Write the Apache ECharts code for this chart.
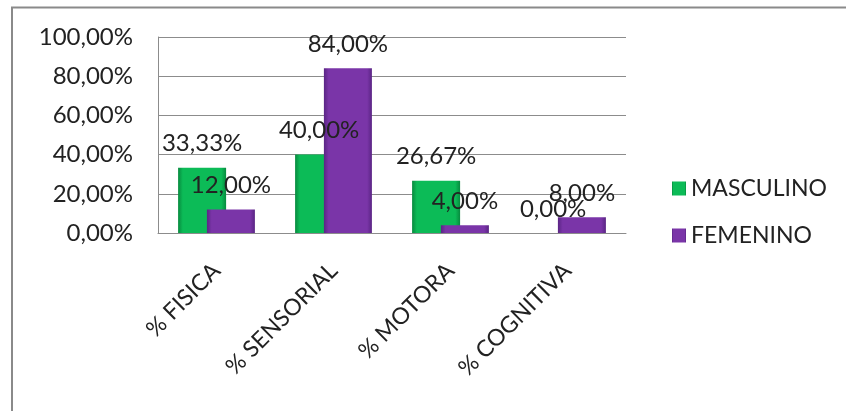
<!DOCTYPE html>
<html>
<head>
<meta charset="utf-8">
<script src="https://cdn.jsdelivr.net/npm/echarts@6/dist/echarts.min.js"></script>
<style>
  html, body { margin: 0; padding: 0; background: #fff; }
  #chart { width: 846px; height: 411px; }
</style>
</head>
<body>
<div id="chart"></div>
<script>
// Disability type by sex (percent)
const categories = ['% FISICA', '% SENSORIAL', '% MOTORA', '% COGNITIVA'];
const masculino = [33.33, 40.00, 26.67, 0.00];
const femenino = [12.00, 84.00, 4.00, 8.00];
const seriesNames = ['MASCULINO', 'FEMENINO'];
const yTicks = { min: 0, max: 100, interval: 20 };

const FONT = 'Lato';
const NUM_SIZE = 24;
const TEXT_SIZE = 23;
const fmtPct = v => Number(v).toFixed(2).replace('.', ',') + '%';

function barFill(dark, mid) {
  return new echarts.graphic.LinearGradient(0, 0, 1, 0, [
    { offset: 0, color: dark },
    { offset: 0.1, color: mid },
    { offset: 0.9, color: mid },
    { offset: 1, color: dark }
  ]);
}

const chart = echarts.init(document.getElementById('chart'), null, { renderer: 'canvas' });

const labelStyle = {
  show: true,
  position: 'top',
  distance: 12,
  formatter: p => fmtPct(p.value),
  fontFamily: FONT,
  fontSize: NUM_SIZE,
  color: '#222'
};

chart.setOption({
  animation: false,
  backgroundColor: '#fff',
  graphic: [{
    type: 'polyline',
    shape: { points: [[12, 420], [12, 7.5], [860, 7.5]] },
    style: { stroke: '#8a8a8a', lineWidth: 2, fill: null },
    silent: true
  }],
  grid: { left: 158, right: 220, top: 37, bottom: 178 },
  legend: {
    orient: 'vertical',
    left: 667,
    top: 172,
    itemWidth: 14,
    itemHeight: 14,
    itemGap: 24,
    icon: 'rect',
    data: seriesNames,
    textStyle: { fontFamily: FONT, fontSize: TEXT_SIZE, color: '#222' }
  },
  xAxis: {
    type: 'category',
    data: categories,
    axisLine: { show: true, lineStyle: { color: '#8c8c8c', width: 1 } },
    axisTick: { show: false },
    axisLabel: {
      rotate: 45,
      margin: 34,
      interval: 0,
      fontFamily: FONT,
      fontSize: TEXT_SIZE,
      color: '#222'
    }
  },
  yAxis: {
    type: 'value',
    min: yTicks.min,
    max: yTicks.max,
    interval: yTicks.interval,
    axisLine: { show: true, lineStyle: { color: '#8c8c8c', width: 1 } },
    axisTick: { show: false },
    splitLine: { lineStyle: { color: '#8c8c8c', width: 1 } },
    axisLabel: {
      margin: 25,
      formatter: v => fmtPct(v),
      fontFamily: FONT,
      fontSize: NUM_SIZE,
      color: '#222'
    }
  },
  series: [
    {
      name: seriesNames[0],
      type: 'bar',
      data: masculino,
      barWidth: 48,
      barGap: '-40%',
      itemStyle: { color: barFill('#078a3e', '#0cbb57') },
      label: labelStyle
    },
    {
      name: seriesNames[1],
      type: 'bar',
      data: femenino,
      barWidth: 48,
      barGap: '-40%',
      itemStyle: { color: barFill('#5a2584', '#7a35a8') },
      label: labelStyle
    }
  ]
});
</script>
</body>
</html>
